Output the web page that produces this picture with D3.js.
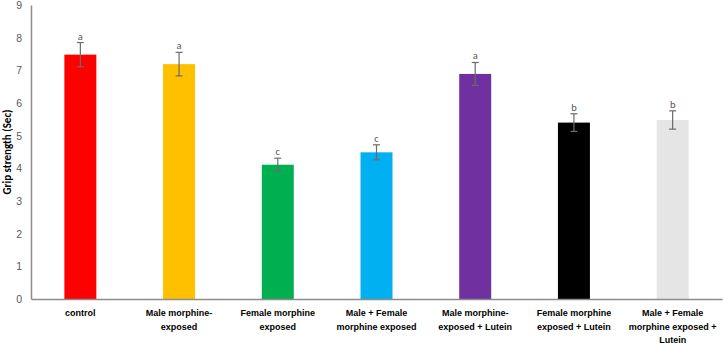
<!DOCTYPE html>
<html>
<head>
<meta charset="utf-8">
<script src="https://cdn.jsdelivr.net/npm/d3@7"></script>
<style>
  body { margin: 0; background: #fff; }
  svg { font-family: Calibri, "Liberation Sans", Arial, sans-serif; }
</style>
</head>
<body>
<div id="chart"></div>
<script>
const groups = [
  ["control"],
  ["Male morphine-", "exposed"],
  ["Female morphine", "exposed"],
  ["Male + Female", "morphine exposed"],
  ["Male morphine-", "exposed + Lutein"],
  ["Female morphine", "exposed + Lutein"],
  ["Male + Female", "morphine exposed +", "Lutein"]
];
const means = [7.48, 7.19, 4.11, 4.49, 6.89, 5.4, 5.48];
const errors = [0.37, 0.36, 0.2, 0.23, 0.35, 0.27, 0.28];
const letters = ["a", "a", "c", "c", "a", "b", "b"];
const colors = ["#ff0000", "#ffc000", "#00b050", "#00b0f0", "#7030a0", "#000000", "#e6e5e6"];
const yTicks = d3.range(0, 10);

const width = 724, height = 344;
const margin = { top: 5, right: 2, bottom: 45, left: 31 };

const svg = d3.select("#chart").append("svg")
  .attr("width", width)
  .attr("height", height);

const x = d3.scaleBand()
  .domain(d3.range(groups.length))
  .range([margin.left, width - margin.right])
  .paddingInner(0.676)
  .paddingOuter(0.338);

const y = d3.scaleLinear()
  .domain([0, 9])
  .range([height - margin.bottom, margin.top]);

// bars
svg.selectAll("rect.bar")
  .data(means)
  .join("rect")
  .attr("class", "bar")
  .attr("x", (d, i) => x(i))
  .attr("y", d => y(d))
  .attr("width", x.bandwidth())
  .attr("height", d => y(0) - y(d))
  .attr("fill", (d, i) => colors[i]);

// error bars
const eb = svg.selectAll("g.err")
  .data(means)
  .join("g")
  .attr("class", "err")
  .attr("stroke", "#6b6b6b")
  .attr("stroke-width", 1.2);

eb.append("line")
  .attr("x1", (d, i) => x(i) + x.bandwidth() / 2)
  .attr("x2", (d, i) => x(i) + x.bandwidth() / 2)
  .attr("y1", (d, i) => y(d + errors[i]))
  .attr("y2", (d, i) => y(d - errors[i]));

[1, -1].forEach(s => {
  eb.append("line")
    .attr("x1", (d, i) => x(i) + x.bandwidth() / 2 - 3.5)
    .attr("x2", (d, i) => x(i) + x.bandwidth() / 2 + 3.5)
    .attr("y1", (d, i) => y(d + s * errors[i]))
    .attr("y2", (d, i) => y(d + s * errors[i]));
});

// significance letters
svg.selectAll("text.letter")
  .data(means)
  .join("text")
  .attr("class", "letter")
  .attr("x", (d, i) => x(i) + x.bandwidth() / 2)
  .attr("y", (d, i) => y(d + errors[i]) - 3)
  .attr("text-anchor", "middle")
  .attr("fill", "#595959")
  .style("font-size", "10.5px")
  .text((d, i) => letters[i]);

// y axis
const yAxis = svg.append("g")
  .attr("transform", `translate(${margin.left},0)`)
  .call(d3.axisLeft(y).tickValues(yTicks).tickSize(0).tickPadding(9));
yAxis.select(".domain").attr("stroke", "#8c8c8c").attr("stroke-width", 1.5);
yAxis.selectAll("text").attr("fill", "#595959").style("font-size", "10.5px");

// x axis
const xAxis = svg.append("g")
  .attr("transform", `translate(0,${y(0)})`)
  .call(d3.axisBottom(x).tickSize(0).tickFormat(""));
xAxis.select(".domain").attr("stroke", "#8c8c8c").attr("stroke-width", 1.5);

xAxis.selectAll(".tick").each(function (i) {
  const t = d3.select(this).append("text")
    .attr("fill", "#000")
    .attr("text-anchor", "middle")
    .style("font-size", "9px")
    .style("font-weight", "bold");
  groups[i].forEach((line, k) => {
    t.append("tspan")
      .attr("x", 0)
      .attr("y", 17 + k * 13.5)
      .text(line);
  });
});

// y label
svg.append("text")
  .attr("transform", "rotate(-90)")
  .attr("x", -(y(0) + y(9)) / 2)
  .attr("y", 11)
  .attr("text-anchor", "middle")
  .style("font-size", "11px")
  .style("font-weight", "bold")
  .attr("fill", "#000")
  .text("Grip strength (Sec)");
</script>
</body>
</html>
